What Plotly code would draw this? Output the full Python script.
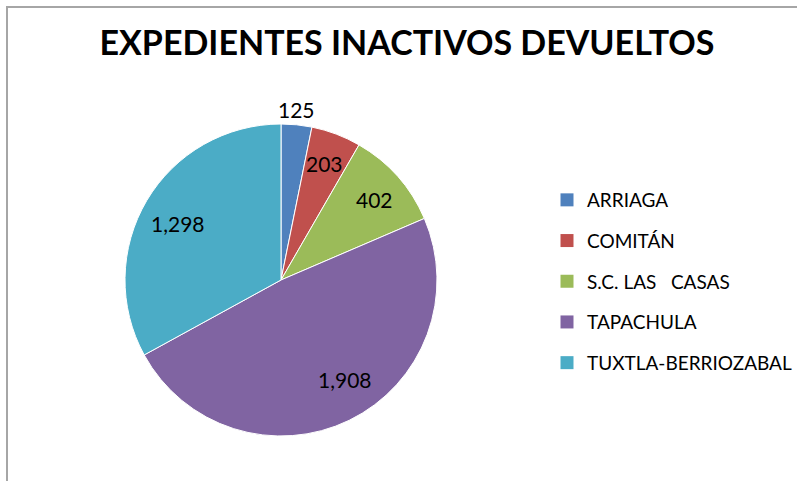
import math
import plotly.graph_objects as go

labels = ["ARRIAGA", "COMITÁN", "S.C. LAS   CASAS", "TAPACHULA", "TUXTLA-BERRIOZABAL"]
values = [125, 203, 402, 1908, 1298]
colors = ["#4F81BD", "#C0504D", "#9BBB59", "#8064A2", "#4BACC6"]
title = "EXPEDIENTES INACTIVOS DEVUELTOS"

# style: data-label placement (fraction of pie radius, angle nudge in degrees)
label_radius = [1.10, 0.80, 0.79, 0.76, 0.75]
label_nudge = [-0.7, -0.3, 1.0, -6.6, -2.0]

W, H = 797, 481
FONT = "Lato"
CX, CY, R = 281, 280, 156  # pie center / radius in pixels

fig = go.Figure()
fig.add_trace(go.Pie(
    labels=labels, values=values, sort=False, direction="clockwise", rotation=0,
    marker=dict(colors=colors, line=dict(color="white", width=1)),
    textinfo="none",
    domain=dict(x=[(CX - R) / W, (CX + R) / W], y=[1 - (CY + R) / H, 1 - (CY - R) / H]),
    showlegend=False, hoverinfo="label+value+percent",
))

# data labels placed around each slice's mid-angle
total = sum(values)
cum = 0
annotations = []
for v, rf, nd in zip(values, label_radius, label_nudge):
    mid = (cum + v / 2) / total * 2 * math.pi + math.radians(nd)
    cum += v
    px = CX + rf * R * math.sin(mid)
    py = CY - rf * R * math.cos(mid)
    annotations.append(dict(
        x=px / W, y=1 - py / H, xref="paper", yref="paper",
        text=f"{v:,}", showarrow=False, xanchor="center", yanchor="middle",
        font=dict(family=FONT, size=21, color="black"),
    ))

# legend entries (one per slice) to allow custom spacing
for lab, col in zip(labels, colors):
    fig.add_trace(go.Scatter(
        x=[None], y=[None], mode="markers", name=lab, legendgroup=lab,
        marker=dict(symbol="square", size=13, color=col),
        showlegend=True,
    ))

fig.update_layout(
    width=W, height=H,
    margin=dict(l=0, r=0, t=0, b=0),
    paper_bgcolor="white", plot_bgcolor="white",
    xaxis=dict(visible=False), yaxis=dict(visible=False),
    title=dict(text=f"<b>{title}</b>", x=407 / W, xanchor="center",
               y=1 - 43 / H, yanchor="middle",
               font=dict(family=FONT, size=34, color="black")),
    legend=dict(x=547 / W, xanchor="left", y=1 - 181 / H, yanchor="top",
                font=dict(family=FONT, size=19, color="black"),
                tracegroupgap=13, bgcolor="rgba(0,0,0,0)"),
    annotations=annotations,
    shapes=[dict(type="rect", xref="paper", yref="paper",
                 x0=7 / W, x1=1.05, y0=-0.05, y1=1 - 7 / H,
                 line=dict(color="#A6A6A6", width=2), layer="below")],
)

fig.write_html("out.html")
